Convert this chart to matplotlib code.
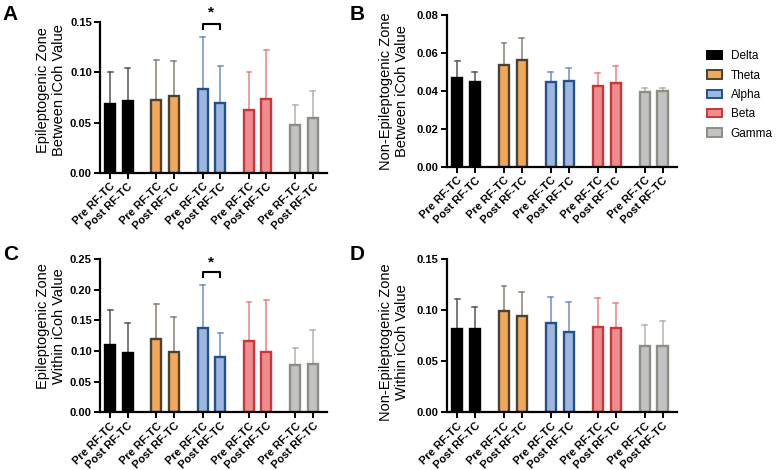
import numpy as np
import matplotlib
matplotlib.use("Agg")
import matplotlib.pyplot as plt
from matplotlib.patches import Patch

plt.rcParams['font.family'] = ['Liberation Sans', 'DejaVu Sans']

# === DATA ===
bands = ["Delta", "Theta", "Alpha", "Beta", "Gamma"]
conditions = ["Pre RF-TC", "Post RF-TC"]

# mean (pre, post) and upper SD tip (pre, post) per band
a_mean = [(0.069, 0.0715), (0.073, 0.0765), (0.0834, 0.070), (0.063, 0.0735), (0.048, 0.055)]
a_err = [(0.100, 0.1045), (0.112, 0.111), (0.135, 0.1065), (0.0999, 0.1226), (0.0676, 0.0814)]

b_mean = [(0.0469, 0.0448), (0.0535, 0.0564), (0.0448, 0.0452), (0.0427, 0.0441), (0.0397, 0.0400)]
b_err = [(0.0559, 0.0498), (0.0652, 0.0679), (0.0498, 0.052), (0.0494, 0.0533), (0.0417, 0.0418)]

c_mean = [(0.1094, 0.0968), (0.120, 0.098), (0.137, 0.0897), (0.116, 0.098), (0.0777, 0.0788)]
c_err = [(0.166, 0.146), (0.176, 0.155), (0.207, 0.1296), (0.179, 0.183), (0.104, 0.134)]

d_mean = [(0.081, 0.081), (0.099, 0.094), (0.0876, 0.0788), (0.0837, 0.082), (0.0647, 0.0647)]
d_err = [(0.111, 0.103), (0.1234, 0.118), (0.113, 0.108), (0.112, 0.1067), (0.085, 0.0895)]

# === STYLE ===
fills = ["#000000", "#F2A858", "#9DB7DD", "#EC8E8E", "#C2C2C2"]
edges = ["#000000", "#4A4232", "#24508E", "#D0343A", "#8E8C84"]
errc = ["#555555", "#8A8070", "#6E90C2", "#E88484", "#B4B2AA"]

GROUP = 2.65
WIDTH = 0.57


def draw_panel(ax, means, errs, ymax, ystep, ylabel, label_xy, sig=None):
    for i in range(len(bands)):
        for j in range(2):
            x = GROUP * i + j
            m = means[i][j]
            top = errs[i][j]
            ax.plot([x, x], [m, top], color=errc[i], lw=1.1, zorder=1)
            ax.plot([x - 0.14, x + 0.14], [top, top], color=errc[i], lw=1.1, zorder=1)
            ax.bar(x, m, width=WIDTH, color=fills[i], edgecolor=edges[i],
                   linewidth=1.7, zorder=2)
    xs = [GROUP * i + j for i in range(len(bands)) for j in range(2)]
    ax.set_xticks(xs)
    ax.set_xticklabels(conditions * len(bands), rotation=45, ha='right',
                       rotation_mode='anchor', fontsize=8, fontweight='bold')
    ax.set_xlim(-0.57, xs[-1] + 0.8)
    ax.set_ylim(0, ymax)
    ticks = np.arange(0, ymax + ystep / 2, ystep)
    ax.set_yticks(ticks)
    ax.set_yticklabels([f"{v:.2f}" for v in ticks], fontsize=8, fontweight='bold')
    ax.set_ylabel(ylabel, fontsize=10.5, linespacing=1.15)
    ax.yaxis.set_label_coords(*label_xy)
    for s in ['top', 'right']:
        ax.spines[s].set_visible(False)
    for s in ['left', 'bottom']:
        ax.spines[s].set_linewidth(1.6)
    ax.tick_params(axis='both', width=1.4, length=4, pad=2)
    if sig is not None:
        y0, y1, ys = sig
        x0, x1 = GROUP * 2, GROUP * 2 + 1
        ax.plot([x0, x0, x1, x1], [y1, y0, y0, y1], color='black', lw=1.5,
                clip_on=False)
        ax.text((x0 + x1) / 2, ys, "*", ha='center', va='center', fontsize=11,
                fontweight='bold', clip_on=False)


fig = plt.figure(figsize=(7.76, 4.70), dpi=100)
axA = fig.add_axes([0.129, 0.632, 0.292, 0.321])
axB = fig.add_axes([0.576, 0.645, 0.296, 0.323])
axC = fig.add_axes([0.129, 0.123, 0.292, 0.326])
axD = fig.add_axes([0.576, 0.123, 0.296, 0.326])

draw_panel(axA, a_mean, a_err, 0.15, 0.05,
           "Epileptogenic Zone\nBetween iCoh Value", (-0.15, 0.55),
           sig=(0.148, 0.143, 0.160))
draw_panel(axB, b_mean, b_err, 0.08, 0.02,
           "Non-Epileptogenic Zone\nBetween iCoh Value", (-0.165, 0.5))
draw_panel(axC, c_mean, c_err, 0.25, 0.05,
           "Epileptogenic Zone\nWithin iCoh Value", (-0.15, 0.56),
           sig=(0.229, 0.221, 0.245))
draw_panel(axD, d_mean, d_err, 0.15, 0.05,
           "Non-Epileptogenic Zone\nWithin iCoh Value", (-0.165, 0.46))

for letter, fx, fy in [("A", 0.003, 0.957), ("B", 0.451, 0.957),
                       ("C", 0.004, 0.447), ("D", 0.451, 0.447)]:
    fig.text(fx, fy, letter, fontsize=15, fontweight='bold', va='baseline', ha='left')

handles = [Patch(facecolor=fills[i], edgecolor=edges[i], linewidth=1.4, label=bands[i])
           for i in range(len(bands))]
fig.legend(handles=handles, loc='upper left', bbox_to_anchor=(0.905, 0.903),
           frameon=False, fontsize=8.5, handlelength=1.3, handleheight=0.7,
           labelspacing=0.62, handletextpad=0.7, borderaxespad=0)

fig.savefig("out.png", dpi=100)
